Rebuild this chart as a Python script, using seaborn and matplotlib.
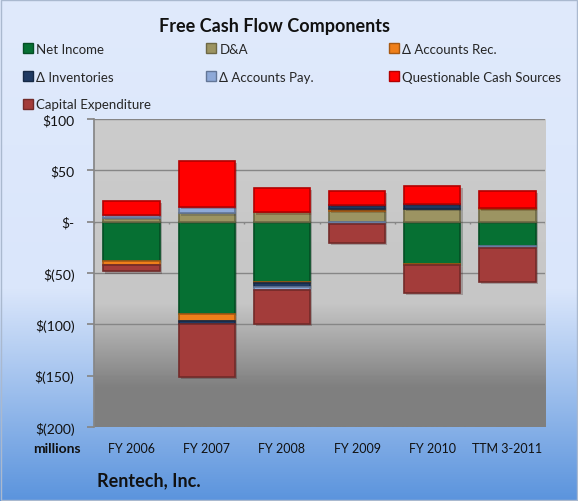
import numpy as np
import pandas as pd
import matplotlib
matplotlib.use('Agg')
import matplotlib.pyplot as plt
import matplotlib.patheffects as pe
from matplotlib.colors import LinearSegmentedColormap
from matplotlib.patches import Patch, Rectangle
from matplotlib.ticker import FuncFormatter
import seaborn as sns

# Free cash flow components, $ millions
categories = ['FY 2006', 'FY 2007', 'FY 2008', 'FY 2009', 'FY 2010', 'TTM 3-2011']
net_income = [-38, -90, -58.5, 0, -41.5, -24]
d_and_a = [4, 8, 9, 10.5, 12, 12]
accounts_rec = [-4.5, -7, -1.5, 2, -1, 1.5]
inventories = [0, -3, -3.5, 3.5, 5, 0]
accounts_pay = [3, 6.5, -3, -2, 0, -1.5]
questionable = [13.5, 44.5, 24, 13.5, 18, 16]
capex = [-6, -51, -33.5, -19, -27, -33]

series = [
    ('Net Income', net_income, '#067033'),
    ('D&A', d_and_a, '#9c9462'),
    ('\u0394 Accounts Rec.', accounts_rec, '#ef7f1a'),
    ('\u0394 Inventories', inventories, '#1f3a63'),
    ('\u0394 Accounts Pay.', accounts_pay, '#8ea9d8'),
    ('Questionable Cash Sources', questionable, '#ff0000'),
    ('Capital Expenditure', capex, '#a33c3a'),
]

sns.set_theme(style='white')
plt.rcParams['font.family'] = ['Lato', 'DejaVu Sans']

fig = plt.figure(figsize=(5.78, 5.02), dpi=100)

# figure background gradient
bg = fig.add_axes([0, 0, 1, 1], zorder=-10)
bg_cmap = LinearSegmentedColormap.from_list(
    'bg', [(0, '#e0eafc'), (0.58, '#dae6fb'), (1, '#5b94dd')])
bg.imshow(np.linspace(0, 1, 256).reshape(-1, 1), cmap=bg_cmap, aspect='auto',
          extent=[0, 1, 0, 1])
bg.axis('off')
fig.patches.append(Rectangle((0.002, 0.002), 0.996, 0.996, transform=fig.transFigure,
                             fill=False, edgecolor='#aab9cf', linewidth=1))

ax = fig.add_axes([0.1626, 0.1474, 0.7804, 0.6135])
ax.set_facecolor('none')

# plot area gradient
pa_cmap = LinearSegmentedColormap.from_list(
    'pa', [(0, '#cccccc'), (0.6, '#c6c6c6'), (0.87, '#808080'), (1, '#7f7f7f')])
ax.imshow(np.linspace(0, 1, 256).reshape(-1, 1), cmap=pa_cmap, aspect='auto',
          extent=[-0.5, 5.5, -200, 100], zorder=0)

pos_base = np.zeros(len(categories))
neg_base = np.zeros(len(categories))
handles = []
for name, vals, col in series:
    vals = np.array(vals, dtype=float)
    bottoms = np.where(vals >= 0, pos_base, neg_base)
    mask = vals != 0
    df = pd.DataFrame({'cat': np.array(categories)[mask], 'val': vals[mask]})
    edge = tuple(c * 0.7 for c in matplotlib.colors.to_rgb(col))
    if mask.any():
        n_before = len(ax.patches)
        sns.barplot(data=df, x='cat', y='val', order=categories, color=col,
                    width=0.75, bottom=bottoms[mask], edgecolor=edge,
                    linewidth=1.2, saturation=1, ax=ax, zorder=3)
        for p in ax.patches[n_before:]:
            p.set_path_effects([pe.SimplePatchShadow(offset=(1.5, -1.5), alpha=0.25),
                                pe.Normal()])
    pos_base = pos_base + np.where(vals > 0, vals, 0)
    neg_base = neg_base + np.where(vals < 0, vals, 0)
    handles.append(Patch(facecolor=col, edgecolor=edge, linewidth=1, label=name))

ax.set_xlim(-0.5, 5.5)
ax.set_ylim(-200, 100)
ax.set_yticks(np.arange(-200, 101, 50))
for y in np.arange(-150, 101, 50):
    ax.axhline(y, color='#868686', linewidth=1, zorder=1)
ax.vlines(np.arange(-0.5, 6, 1), -2.5, 0, color='#868686', linewidth=1, zorder=1)


def money(v, _):
    if v == 0:
        return '$-'
    if v < 0:
        return '$(%d)' % abs(v)
    return '$%d' % v


ax.yaxis.set_major_formatter(FuncFormatter(money))
ax.set_xlabel('')
ax.set_ylabel('')
for s in ['top', 'right', 'bottom']:
    ax.spines[s].set_visible(False)
ax.spines['left'].set_color('#868686')
ax.tick_params(axis='y', left=True, length=5, color='#868686', labelsize=10,
               pad=9, labelcolor='#111111')
ax.tick_params(axis='x', bottom=False, labelsize=9, pad=5, labelcolor='#111111')

fig.text(0.475, 0.948, 'Free Cash Flow Components', ha='center', va='center',
         fontsize=13, fontweight='bold', color='#111111')
fig.text(0.139, 0.105, 'millions', ha='right', va='center', fontsize=10,
         fontweight='bold', color='#111111')
fig.text(0.167, 0.042, 'Rentech, Inc.', ha='left', va='center', fontsize=13,
         fontweight='bold', color='#111111')

# legend laid out row-wise in three columns
cols = [[handles[0], handles[3], handles[6]],
        [handles[1], handles[4]],
        [handles[2], handles[5]]]
for i, hs in enumerate(cols):
    fig.legend(handles=hs, loc='upper left',
               bbox_to_anchor=(0.040 + i * 0.3166, 0.913), frameon=False,
               fontsize=9.5, handlelength=0.75, handleheight=0.75,
               handletextpad=0.25, labelspacing=1.2, borderaxespad=0,
               borderpad=0)

fig.savefig('out.png', dpi=100)
